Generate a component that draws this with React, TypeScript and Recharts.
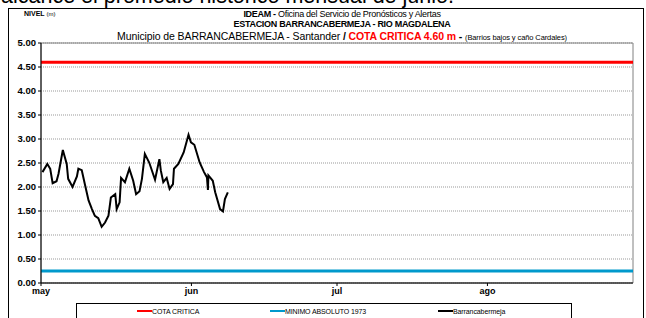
import React from "react";
import {
  ComposedChart, Line, XAxis, YAxis, CartesianGrid, ReferenceLine, ReferenceArea,
} from "recharts";

// day index counted from 1 May, river level in metres
const DAYS = [
  0.3, 1.3, 1.9, 2.4, 3.2, 3.6, 4.5, 5.3, 5.6, 6.5, 7.4, 7.7, 8.4, 9.1, 9.8,
  10.5, 11.1, 11.8, 12.5, 13.2, 13.9, 14.4, 15.3, 15.6, 16.2, 16.5, 17.3, 18.2,
  19.0, 19.6, 20.3, 20.8, 21.4, 22.3, 23.5, 24.4, 24.7, 25.2, 25.9, 26.5, 27.2,
  27.4, 28.3, 29.4, 30.4, 30.9, 31.6, 32.7, 33.6, 34.2, 34.4, 34.5, 35.4, 35.9,
  36.9, 37.5, 37.9, 38.5,
];
const NIVEL = [
  2.31, 2.48, 2.38, 2.08, 2.12, 2.27, 2.77, 2.48, 2.17, 2.0, 2.22, 2.38, 2.35,
  2.03, 1.72, 1.54, 1.4, 1.35, 1.17, 1.26, 1.4, 1.78, 1.85, 1.54, 1.68, 2.19,
  2.1, 2.38, 2.13, 1.85, 1.91, 2.17, 2.69, 2.51, 2.15, 2.58, 2.34, 2.1, 2.19,
  1.96, 2.06, 2.38, 2.48, 2.72, 3.09, 2.93, 2.88, 2.51, 2.31, 2.2, 1.94, 2.24,
  2.13, 1.89, 1.54, 1.49, 1.75, 1.89,
];
const MONTHS = ["may", "jun", "jul", "ago"];
const MONTH_TICKS = [0, 31, 61, 92];
const Y_TICKS = [0, 0.5, 1, 1.5, 2, 2.5, 3, 3.5, 4, 4.5, 5];
const COTA_CRITICA = 4.6;
const MINIMO_1973 = 0.25;

const data = DAYS.map((d, i) => ({ day: d, nivel: NIVEL[i] }));

const FONT = "'Liberation Sans', Arial, sans-serif";

function LegendItem({ color, label, left }: { color: string; label: string; left: number }) {
  return (
    <div style={{ position: "absolute", left, top: 0, height: 14, display: "flex", alignItems: "center", whiteSpace: "nowrap" }}>
      <span style={{ display: "inline-block", width: 15, height: 2, background: color }} />
      <span style={{ fontSize: 7, letterSpacing: -0.1 }}>{label}</span>
    </div>
  );
}

export default function App() {
  return (
    <div style={{ position: "relative", width: 646, height: 318, overflow: "hidden", background: "#fff", fontFamily: FONT }}>
      <style>{"body{margin:0}"}</style>
      <div style={{ position: "absolute", left: 1, top: -15, fontSize: 21.5, whiteSpace: "nowrap", lineHeight: "22px" }}>
        alcance el promedio histórico mensual de junio.
      </div>
      <div style={{ position: "absolute", left: 8, top: 8, width: 634, height: 320, border: "1px solid #000", background: "transparent" }} />

      <div style={{ position: "absolute", left: 24, top: 10, fontSize: 7, whiteSpace: "nowrap" }}>
        <b>NIVEL</b> <span style={{ fontSize: 6 }}>(m)</span>
      </div>
      <div style={{ position: "absolute", left: 0, width: 684, top: 9, textAlign: "center", whiteSpace: "nowrap" }}>
        <div style={{ fontSize: 9, lineHeight: "10px", letterSpacing: -0.3 }}>
          <b>IDEAM - </b>Oficina del Servicio de Pronósticos y Alertas
        </div>
        <div style={{ fontSize: 9, lineHeight: "10px", letterSpacing: -0.3 }}>
          <b>ESTACION BARRANCABERMEJA - RIO MAGDALENA</b>
        </div>
        <div style={{ fontSize: 10.5, lineHeight: "12px", letterSpacing: -0.1, marginTop: 1 }}>
          Municipio de BARRANCABERMEJA - Santander <b>/</b>{" "}
          <b style={{ color: "#ff0000" }}>COTA CRITICA 4.60 m</b> <b>-</b>{" "}
          <span style={{ fontSize: 7.5 }}>(Barrios bajos y caño Cardales)</span>
        </div>
      </div>

      <div style={{ position: "absolute", left: 0, top: 0 }}>
        <ComposedChart width={646} height={318} data={data} margin={{ top: 43, right: 13, bottom: 19, left: 6 }}>
          <CartesianGrid vertical={false} stroke="#999" strokeDasharray="1 1" />
          <ReferenceArea x1={0} x2={122} y1={0} y2={5} fill="none" stroke="#808080" strokeWidth={1} ifOverflow="visible" />
          <XAxis
            dataKey="day"
            type="number"
            domain={[0, 122]}
            ticks={MONTH_TICKS}
            tickFormatter={(v: number) => MONTHS[MONTH_TICKS.indexOf(v)]}
            height={16}
            stroke="#000"
            tickSize={3}
            tick={{ fontSize: 9, fontWeight: "bold", fill: "#000", fontFamily: FONT }}
          />
          <YAxis
            type="number"
            domain={[0, 5]}
            ticks={Y_TICKS}
            width={35}
            stroke="#000"
            tickSize={3}
            tickFormatter={(v: number) => v.toFixed(2)}
            tick={{ fontSize: 9.5, fontWeight: "bold", fill: "#000", fontFamily: FONT }}
          />
          <ReferenceLine y={COTA_CRITICA} stroke="#ff0000" strokeWidth={3} />
          <ReferenceLine y={MINIMO_1973} stroke="#0099cc" strokeWidth={3} />
          <Line
            dataKey="nivel"
            type="linear"
            stroke="#000"
            strokeWidth={2}
            dot={false}
            isAnimationActive={false}
          />
        </ComposedChart>
      </div>

      <div style={{ position: "absolute", left: 76, top: 303, width: 496, height: 16, border: "1px solid #000", boxSizing: "border-box" }}>
        <LegendItem color="#ff0000" label="COTA CRITICA" left={60} />
        <LegendItem color="#0099cc" label="MINIMO ABSOLUTO 1973" left={193} />
        <LegendItem color="#000" label="Barrancabermeja" left={361} />
      </div>
    </div>
  );
}
